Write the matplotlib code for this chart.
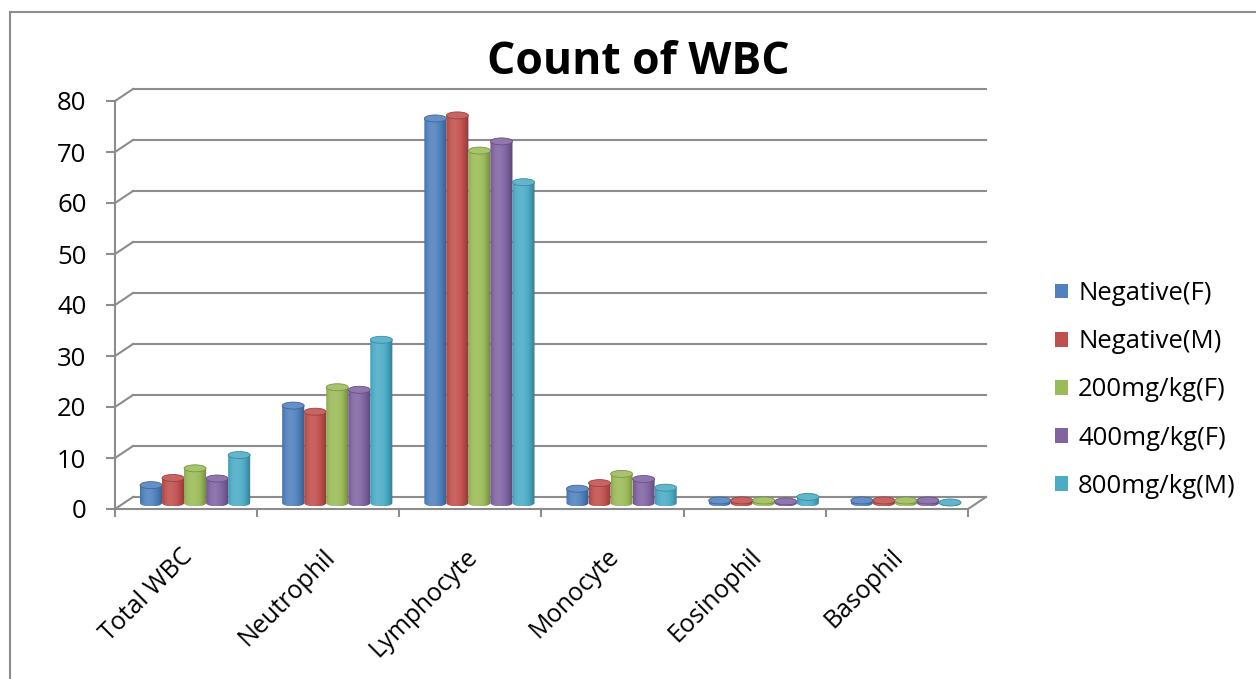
import numpy as np
import matplotlib
matplotlib.use("Agg")
import matplotlib.pyplot as plt
from matplotlib import transforms
from matplotlib.patches import Ellipse, PathPatch, Patch
from matplotlib.path import Path
from matplotlib.lines import Line2D
from matplotlib.colors import to_rgb

plt.rcParams['font.family'] = ['Open Sans', 'DejaVu Sans']

categories = ["Total WBC", "Neutrophil", "Lymphocyte", "Monocyte", "Eosinophil", "Basophil"]
groups = ["Negative(F)", "Negative(M)", "200mg/kg(F)", "400mg/kg(F)", "800mg/kg(M)"]
neg_f = [3.5, 19.1, 75.4, 2.8, 0.5, 0.5]
neg_m = [4.9, 17.9, 76.0, 3.9, 0.5, 0.5]
mg200_f = [6.8, 22.7, 69.1, 5.7, 0.5, 0.5]
mg400_f = [4.8, 22.2, 70.9, 4.7, 0.3, 0.5]
mg800_m = [9.4, 32.0, 62.9, 3.0, 1.2, 0.1]
series = [neg_f, neg_m, mg200_f, mg400_f, mg800_m]
colors = ["#4F81BD", "#C0504D", "#9BBB59", "#8064A2", "#4BACC6"]

GRID = "#8c8c8c"
W, H = 1256, 679

fig = plt.figure(figsize=(W / 100, H / 100), dpi=100)
# front plane of the 3d box, in pixels
x0p, x1p, y0p, y1p = 115, 968, 509, 101
ax = fig.add_axes([x0p / W, 1 - y0p / H, (x1p - x0p) / W, (y0p - y1p) / H])
ax.set_xlim(0, len(categories))
ax.set_ylim(0, 80)
ax.patch.set_visible(False)

# depth offsets (pixels): back wall and the plane the columns stand on
back = transforms.offset_copy(ax.transData, fig, x=18, y=12, units='dots')
mid = transforms.offset_copy(ax.transData, fig, x=9, y=6, units='dots')
sx = (x1p - x0p) / len(categories)
sy = (y0p - y1p) / 80.0
ddx, ddy = 18 / sx, 12 / sy

nc = len(categories)
for v in range(0, 81, 10):
    ax.plot([0, nc], [v, v], color=GRID, lw=1.5, transform=back, clip_on=False, zorder=1)
    ax.plot([0, ddx], [v, v + ddy], color=GRID, lw=1.5, clip_on=False, zorder=1)
ax.plot([nc, nc + ddx], [0, ddy], color=GRID, lw=1.5, clip_on=False, zorder=1)


def shade(c, f):
    c = np.array(to_rgb(c))
    if f >= 1:
        return c + (1 - c) * (f - 1)
    return c * f


def cylinder(rect, color, z):
    xa = rect.get_x()
    w = rect.get_width()
    h = rect.get_height()
    xc = xa + w / 2
    eh = 7 / sy
    th = np.linspace(np.pi, 2 * np.pi, 40)
    arc = np.column_stack([xc + w / 2 * np.cos(th), eh / 2 * np.sin(th)])
    verts = np.vstack([[xa, h], [xa, 0], arc, [xa + w, h], [xa, h]])
    codes = [Path.MOVETO] + [Path.LINETO] * (len(verts) - 2) + [Path.CLOSEPOLY]
    body = PathPatch(Path(verts, codes), transform=mid, facecolor='none', edgecolor='none')
    t = np.linspace(0, 1, 60)
    f = np.where(t < 0.35, 1.12 - 1.9 * (t - 0.35) ** 2, 1.12 - 1.0 * (t - 0.35) ** 2)
    img = np.array([[shade(color, fi) for fi in f]])
    im = ax.imshow(img, extent=(xa, xa + w, -eh / 2, max(h, 0.01)), aspect='auto',
                   transform=mid, interpolation='bilinear', zorder=z, clip_on=True)
    im.set_clip_path(body)
    cap = Ellipse((xc, h), w, eh, transform=mid, facecolor=shade(color, 1.12),
                  edgecolor=shade(color, 0.8), lw=0.6, zorder=z + 0.01, clip_on=False)
    ax.add_patch(cap)


bw = 0.155
xs = np.arange(nc) + 0.5
for k, (vals, c) in enumerate(zip(series, colors)):
    bars = ax.bar(xs + (k - 2) * bw, vals, width=bw, color='none', transform=mid, zorder=2)
    for i, r in enumerate(bars):
        cylinder(r, c, 3 + i * 0.1 + k * 0.01)
ax.set_xlim(0, nc)
ax.set_ylim(0, 80)

for s in ['top', 'right']:
    ax.spines[s].set_visible(False)
for s in ['left', 'bottom']:
    ax.spines[s].set_color(GRID)
    ax.spines[s].set_linewidth(1.5)
    ax.spines[s].set_zorder(6)

ax.set_yticks(range(0, 81, 10))
ax.tick_params(axis='y', length=6.5, width=1.5, color=GRID, pad=14, labelsize=18.5)
ax.set_xticks(range(nc + 1))
ax.set_xticklabels([])
ax.tick_params(axis='x', length=6, width=1.5, color=GRID)

for i, name in enumerate(categories):
    ax.annotate(name, xy=(i + 0.5, 0), xytext=(3, -44), textcoords='offset pixels',
                rotation=45, rotation_mode='anchor', ha='right', va='center', fontsize=18)

fig.text(638 / W, 1 - 63 / H, "Count of WBC", ha='center', va='center',
         fontsize=32, fontweight='bold')

handles = [Patch(facecolor=c, edgecolor='none') for c in colors]
fig.legend(handles, groups, loc='center left', bbox_to_anchor=(1055 / W, 1 - 390 / H),
           frameon=False, fontsize=18.5, handlelength=0.5, handleheight=0.5,
           handletextpad=0.4, labelspacing=0.9, borderpad=0, borderaxespad=0)

# chart frame
fig.add_artist(Line2D([10 / W, 10 / W], [0, 1 - 12 / H], color=GRID, lw=1.5))
fig.add_artist(Line2D([10 / W, 1], [1 - 12 / H, 1 - 12 / H], color=GRID, lw=1.5))

fig.savefig("out.png", dpi=100)
